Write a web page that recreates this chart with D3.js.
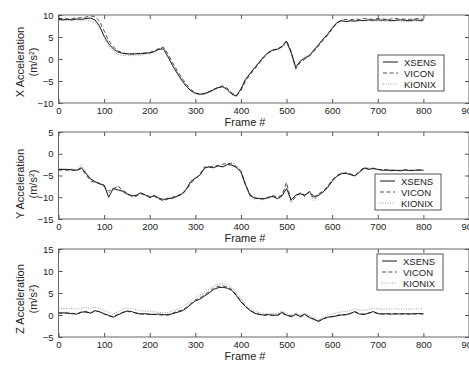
<!DOCTYPE html>
<html>
<head>
<meta charset="utf-8">
<script src="https://cdn.jsdelivr.net/npm/d3@7"></script>
<style>
  html, body { margin: 0; padding: 0; background: #fff; }
  svg { display: block; }
  .tick text { font-family: "Liberation Sans", Arial, sans-serif; font-size: 9.5px; fill: #222; }
  .tick line { stroke: #555; }
</style>
</head>
<body>
<div id="chart"></div>
<script>
// frames 0..800 step 10
const frames = d3.range(0, 801, 10);
const seriesNames = ['XSENS', 'VICON', 'KIONIX'];
const xTicks = [0, 100, 200, 300, 400, 500, 600, 700, 800, 900];

const xXsens = [9.0, 8.9, 9.0, 8.9, 9.1, 9.0, 9.2, 9.3, 8.9, 7.5, 5.2, 3.5, 2.3, 1.6, 1.3, 1.2, 1.1, 1.2, 1.2, 1.3, 1.4, 1.7, 2.2, 2.3, 0.5, -1.5, -3.2, -4.8, -6.2, -7.2, -7.8, -8.0, -7.9, -7.5, -7.0, -6.5, -6.3, -6.9, -8.0, -8.4, -6.8, -4.6, -3.3, -2.0, -0.8, 0.5, 1.5, 2.0, 2.2, 2.8, 4.0, 1.5, -1.8, -0.5, 0.2, 0.8, 2.0, 3.2, 4.5, 5.6, 7.0, 8.2, 8.7, 8.5, 8.7, 8.6, 8.8, 8.7, 8.9, 8.8, 8.9, 8.8, 8.9, 8.7, 8.8, 8.9, 8.8, 8.7, 8.9, 8.8, 8.8];
const xVicon = [9.2, 9.2, 9.1, 9.2, 9.3, 9.4, 9.5, 9.8, 9.6, 8.6, 6.4, 4.2, 2.8, 1.9, 1.4, 1.2, 1.2, 1.2, 1.3, 1.4, 1.5, 1.8, 2.4, 2.7, 1.2, -0.8, -2.6, -4.2, -5.7, -6.9, -7.7, -8.0, -7.8, -7.4, -6.9, -6.4, -6.1, -6.6, -7.7, -8.2, -7.2, -5.0, -3.6, -2.3, -1.0, 0.3, 1.3, 2.0, 2.3, 2.9, 4.2, 1.8, -2.2, -0.8, 0.0, 0.6, 1.7, 2.9, 4.2, 5.4, 6.8, 8.1, 8.9, 9.0, 8.9, 9.1, 9.0, 9.2, 9.1, 9.0, 9.2, 9.1, 9.0, 9.1, 9.2, 9.0, 9.1, 9.0, 9.1, 9.2, 9.0];
const xKionix = [8.7, 8.8, 8.6, 8.8, 8.9, 8.7, 8.9, 8.6, 8.4, 7.0, 4.8, 3.0, 1.8, 1.1, 0.8, 0.9, 0.7, 0.9, 0.8, 1.1, 1.2, 1.6, 2.3, 2.5, 0.8, -1.2, -3.0, -4.6, -6.0, -7.1, -7.9, -8.2, -8.0, -7.6, -7.1, -6.6, -6.4, -7.0, -8.1, -8.6, -7.0, -4.8, -3.2, -1.8, -0.6, 0.6, 1.5, 2.1, 2.4, 2.6, 3.6, 1.0, -2.5, -0.4, 0.5, 1.0, 2.2, 3.4, 4.6, 5.8, 7.2, 8.3, 8.6, 8.6, 8.5, 8.7, 8.6, 8.8, 8.7, 8.6, 8.7, 8.6, 8.5, 8.6, 8.7, 8.6, 8.5, 8.6, 8.7, 8.6, 8.5];

const yXsens = [-3.6, -3.6, -3.6, -3.7, -3.8, -3.2, -4.5, -5.8, -6.4, -6.9, -7.2, -10.0, -8.0, -8.3, -8.6, -9.2, -9.7, -9.6, -9.0, -9.4, -10.1, -9.6, -10.2, -10.5, -10.3, -10.2, -9.8, -9.3, -8.2, -6.4, -5.6, -4.9, -3.3, -3.0, -3.2, -2.8, -3.0, -2.5, -2.6, -3.2, -4.2, -7.2, -9.6, -10.2, -10.3, -10.4, -10.0, -9.8, -10.3, -9.7, -8.0, -10.6, -9.5, -9.2, -9.5, -8.8, -9.8, -9.6, -8.8, -7.8, -6.3, -5.2, -4.6, -4.5, -4.8, -5.1, -4.2, -3.3, -3.6, -3.4, -3.6, -3.8, -3.7, -3.9, -3.8, -3.9, -3.7, -3.9, -3.8, -3.7, -3.8];
const yVicon = [-3.8, -3.7, -3.8, -3.8, -3.9, -3.4, -4.8, -6.2, -6.6, -6.8, -7.5, -8.6, -8.2, -7.4, -8.3, -9.0, -9.6, -9.8, -9.2, -9.5, -9.8, -9.8, -10.4, -10.8, -10.4, -10.0, -9.6, -9.4, -8.4, -6.8, -5.8, -4.7, -3.0, -3.2, -2.9, -2.7, -2.4, -2.2, -2.3, -3.0, -4.0, -7.0, -9.4, -10.0, -10.5, -10.2, -10.2, -9.6, -10.0, -9.5, -6.6, -10.9, -10.0, -9.0, -9.8, -8.6, -10.4, -9.2, -8.6, -7.5, -6.0, -5.0, -4.5, -4.4, -4.6, -5.0, -4.0, -3.1, -3.5, -3.3, -3.6, -3.7, -3.8, -3.7, -3.9, -3.8, -3.8, -3.7, -3.9, -3.8, -3.7];
const yKionix = [-3.5, -3.4, -3.6, -3.5, -3.6, -2.5, -4.2, -5.5, -6.6, -7.0, -7.3, -9.2, -7.7, -7.6, -8.8, -9.4, -9.8, -9.4, -8.9, -9.6, -10.0, -9.4, -10.3, -10.9, -10.1, -10.4, -9.6, -9.1, -7.9, -6.3, -5.4, -5.0, -3.5, -2.8, -3.4, -2.6, -3.2, -2.4, -2.0, -2.8, -3.6, -6.8, -9.8, -10.4, -10.1, -10.6, -9.9, -10.0, -10.4, -9.9, -7.0, -11.3, -9.8, -8.8, -9.6, -9.0, -10.8, -9.4, -8.9, -7.6, -6.1, -5.3, -4.3, -4.6, -4.7, -5.2, -4.3, -3.4, -3.2, -3.5, -3.5, -3.9, -3.6, -3.8, -3.7, -4.0, -3.6, -3.8, -3.9, -3.6, -3.9];

const zXsens = [0.4, 0.5, 0.4, 0.3, 0.2, 0.6, 0.8, 0.4, 1.0, 0.7, 0.3, -0.1, -0.5, 0.0, 0.5, 0.9, 0.8, 0.4, 0.2, 0.3, 0.2, 0.1, 0.2, 0.1, 0.0, 0.3, 0.6, 0.9, 1.5, 2.4, 3.2, 3.6, 4.3, 5.0, 5.8, 6.2, 6.3, 6.1, 5.6, 4.4, 3.0, 1.9, 1.0, 0.4, 0.1, 0.0, 0.1, -0.1, 0.0, 0.6, 0.0, -0.4, 0.1, -0.3, 0.2, -0.6, -0.9, -1.5, -0.9, -0.5, -0.4, -0.2, 0.0, 0.1, 0.3, 0.8, 0.2, 0.1, 0.4, 0.8, 0.3, 0.2, 0.3, 0.2, 0.3, 0.2, 0.3, 0.2, 0.3, 0.3, 0.3];
const zVicon = [0.5, 0.4, 0.5, 0.4, 0.3, 0.7, 0.6, 0.5, 0.9, 0.8, 0.2, -0.2, -0.3, 0.1, 0.6, 0.8, 0.7, 0.5, 0.3, 0.2, 0.1, 0.2, 0.0, 0.0, 0.1, 0.4, 0.8, 1.1, 1.7, 2.6, 3.4, 3.9, 4.6, 5.3, 6.1, 6.5, 6.6, 6.4, 5.8, 4.6, 3.2, 2.0, 1.1, 0.5, 0.2, -0.1, 0.0, 0.0, -0.1, 0.4, -0.1, -0.2, 0.3, -0.5, 0.0, -0.4, -1.1, -1.3, -0.8, -0.6, -0.3, -0.1, 0.1, 0.0, 0.4, 0.6, 0.3, 0.2, 0.5, 0.6, 0.4, 0.3, 0.2, 0.3, 0.2, 0.3, 0.2, 0.3, 0.2, 0.3, 0.2];
const zKionix = [1.4, 1.5, 1.4, 1.5, 1.3, 1.6, 1.7, 1.5, 1.8, 1.5, 1.0, 0.6, 0.2, 0.7, 1.3, 1.6, 1.5, 1.2, 1.0, 0.9, 0.8, 0.7, 0.6, 0.5, 0.6, 0.9, 1.3, 1.8, 2.4, 3.2, 4.0, 4.5, 5.2, 5.9, 6.6, 7.0, 7.1, 6.9, 6.3, 5.1, 3.7, 2.5, 1.5, 0.9, 0.5, 0.4, 0.4, 0.3, 0.4, 0.9, 0.4, 0.0, 0.5, 0.0, 0.4, -0.2, -0.6, -1.1, -0.5, -0.1, 0.3, 0.5, 0.7, 0.8, 1.0, 1.4, 1.1, 1.1, 1.3, 1.6, 1.4, 1.3, 1.4, 1.3, 1.4, 1.3, 1.4, 1.3, 1.4, 1.4, 1.4];

const panels = [
  { axis: 'X', domain: [-10, 10], ticks: [-10, -5, 0, 5, 10], top: 15, bottom: 103, labelY: 62,
    series: [xXsens, xVicon, xKionix], legend: { x: 378, y: 55 } },
  { axis: 'Y', domain: [-15, 5], ticks: [-15, -10, -5, 0, 5], top: 132, bottom: 219, labelY: 184,
    series: [yXsens, yVicon, yKionix], legend: { x: 375, y: 174 } },
  { axis: 'Z', domain: [-5, 15], ticks: [-5, 0, 5, 10, 15], top: 249, bottom: 337, labelY: 299,
    series: [zXsens, zVicon, zKionix], legend: { x: 377, y: 254 } }
];

const styles = [
  { stroke: '#1a1a1a', dash: null, width: 1 },
  { stroke: '#3c3c3c', dash: '4,2.5', width: 0.9 },
  { stroke: '#9a9a9a', dash: '1,1.5', width: 1 }
];

const W = 469, H = 367;
const left = 58.5, right = 469;
const font = '"Liberation Sans", Arial, sans-serif';

const svg = d3.select('#chart').append('svg').attr('width', W).attr('height', H);

const x = d3.scaleLinear().domain([0, 900]).range([left, right]);

panels.forEach((p, i) => {
  const y = d3.scaleLinear().domain(p.domain).range([p.bottom, p.top]);
  const g = svg.append('g');
  const h = p.bottom - p.top;

  g.append('clipPath').attr('id', 'clip' + i)
    .append('rect').attr('x', left).attr('y', p.top).attr('width', right - left).attr('height', h);

  // frame
  g.append('rect').attr('x', left).attr('y', p.top).attr('width', right - left).attr('height', h)
    .attr('fill', 'none').attr('stroke', '#666').attr('stroke-width', 1);

  // axes, ticks pointing inward
  const xb = g.append('g').attr('transform', 'translate(0,' + p.bottom + ')')
    .call(d3.axisBottom(x).tickValues(xTicks).tickSize(-4).tickPadding(4));
  g.append('g').attr('transform', 'translate(0,' + p.top + ')')
    .call(d3.axisTop(x).tickValues(xTicks).tickSize(-4).tickFormat(''));
  g.append('g').attr('transform', 'translate(' + left + ',0)')
    .call(d3.axisLeft(y).tickValues(p.ticks).tickSize(-4).tickPadding(5));
  g.append('g').attr('transform', 'translate(' + right + ',0)')
    .call(d3.axisRight(y).tickValues(p.ticks).tickSize(-4).tickFormat(''));
  g.selectAll('.domain').remove();

  // lines
  const line = d3.line().x((d, k) => x(frames[k])).y(d => y(d));
  const lines = g.append('g').attr('clip-path', 'url(#clip' + i + ')');
  // draw kionix first, xsens on top
  [2, 1, 0].forEach(s => {
    lines.append('path').datum(p.series[s])
      .attr('d', line)
      .attr('fill', 'none')
      .attr('stroke', styles[s].stroke)
      .attr('stroke-width', styles[s].width)
      .attr('stroke-dasharray', styles[s].dash);
  });

  // axis titles
  g.append('text').attr('x', 245).attr('y', p.bottom + 23)
    .attr('text-anchor', 'middle').attr('font-family', font).attr('font-size', 11).attr('fill', '#222')
    .text('Frame #');
  const yl = g.append('text').attr('transform', 'translate(24,' + p.labelY + ') rotate(-90)')
    .attr('text-anchor', 'middle').attr('font-family', font).attr('font-size', 11).attr('fill', '#222');
  yl.append('tspan').attr('x', 0).attr('dy', 0).text(p.axis + ' Acceleration');
  const t2 = yl.append('tspan').attr('x', 0).attr('dy', 13).text('(m/s');
  t2.append('tspan').attr('baseline-shift', 'super').attr('font-size', 7).text('2');
  yl.append('tspan').text(')');

  // legend
  const lg = g.append('g').attr('transform', 'translate(' + p.legend.x + ',' + p.legend.y + ')');
  lg.append('rect').attr('width', 66).attr('height', 36)
    .attr('fill', '#fff').attr('stroke', '#555').attr('stroke-width', 1);
  seriesNames.forEach((name, s) => {
    const ry = 7 + s * 11;
    lg.append('line').attr('x1', 5).attr('x2', 20).attr('y1', ry).attr('y2', ry)
      .attr('stroke', styles[s].stroke).attr('stroke-width', styles[s].width)
      .attr('stroke-dasharray', styles[s].dash);
    lg.append('text').attr('x', 26).attr('y', ry + 3.5)
      .attr('font-family', font).attr('font-size', 9.5).attr('fill', '#222').text(name);
  });
});
</script>
</body>
</html>
